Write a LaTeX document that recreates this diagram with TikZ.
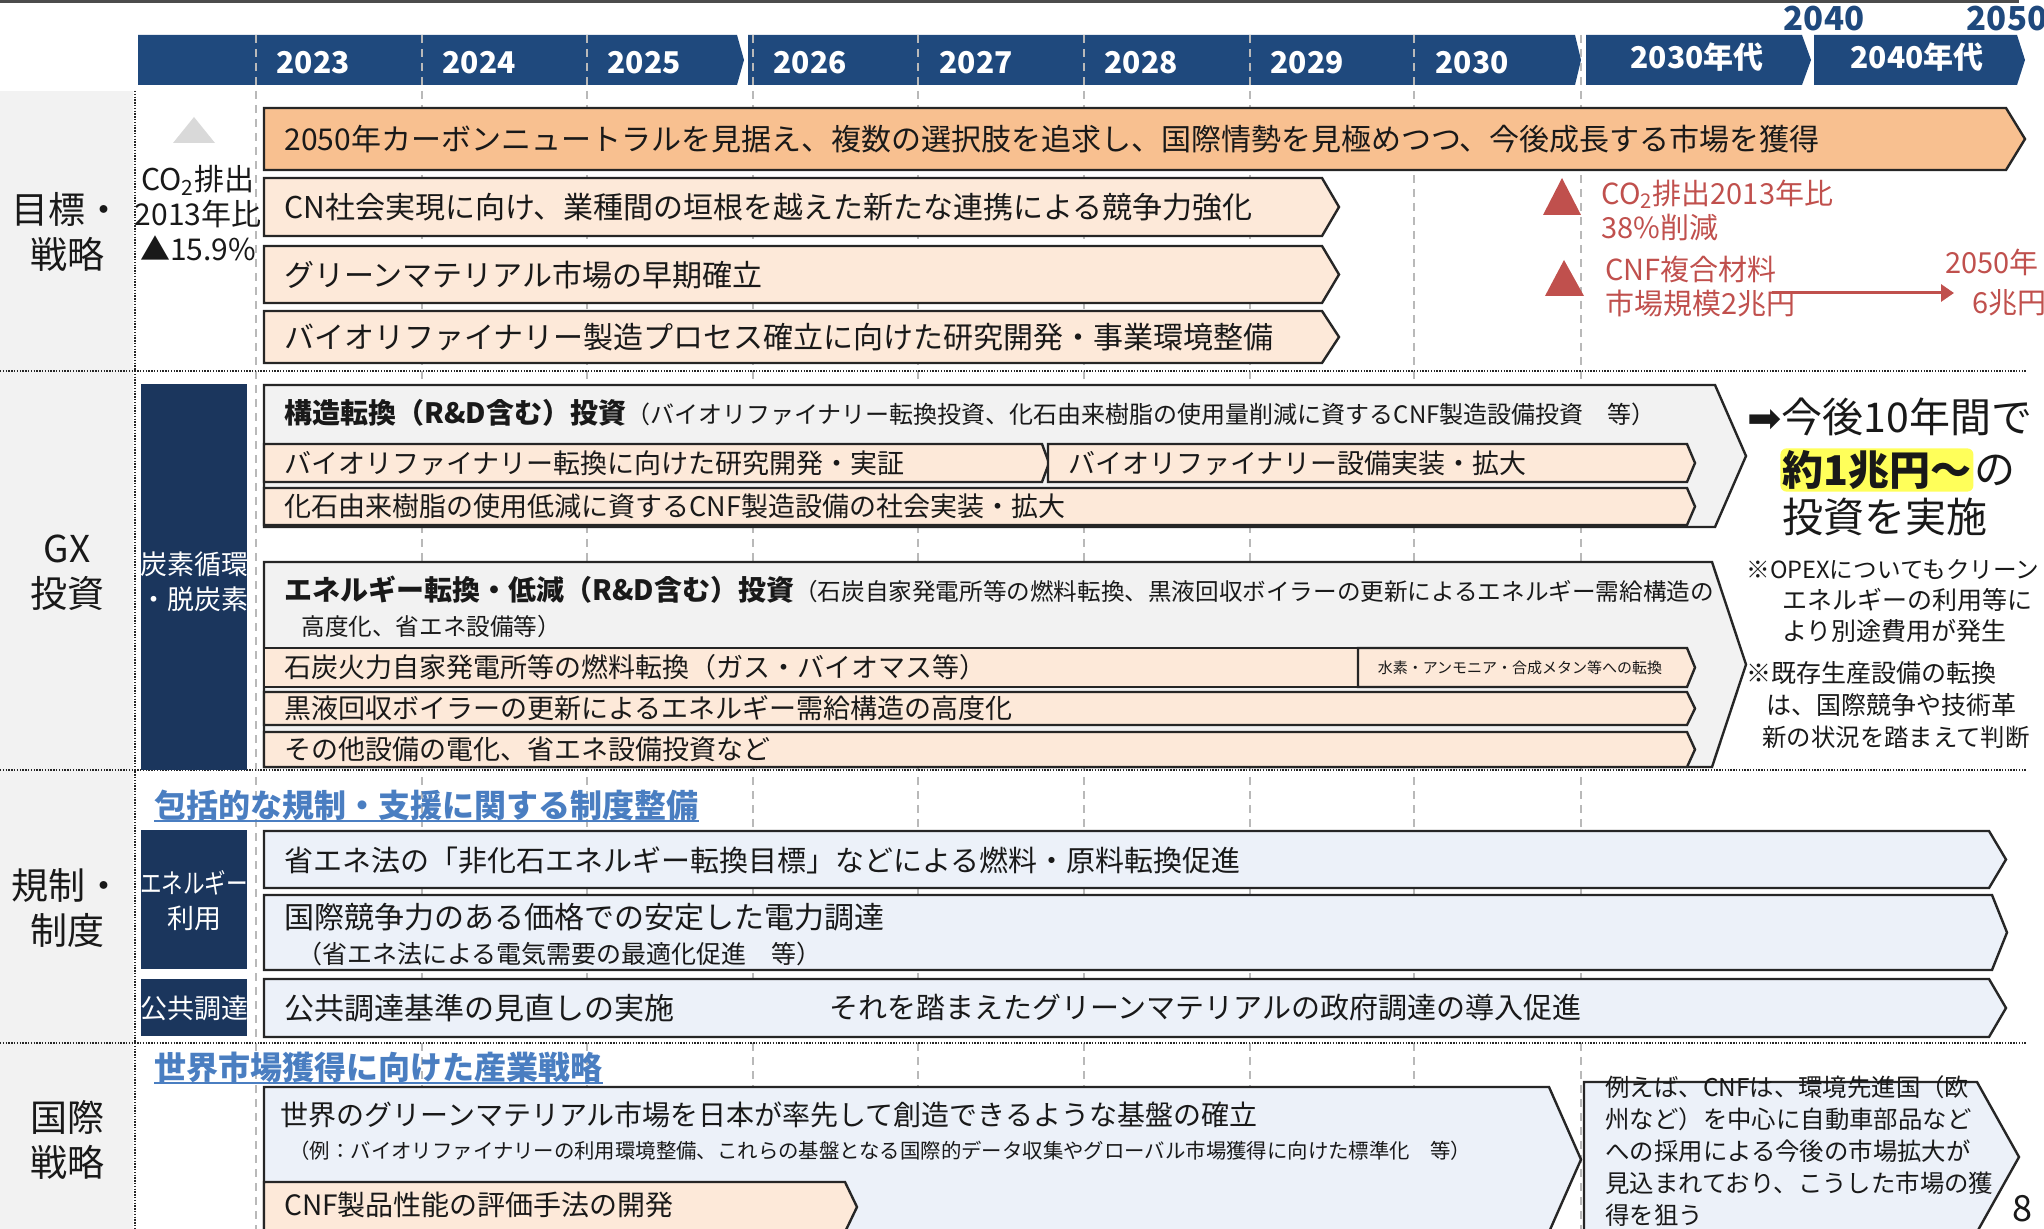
\documentclass[tikz,border=0pt]{standalone}
\usepackage{fontspec}
\setmainfont{Noto Sans CJK JP}
\newfontfamily\symfont{DejaVu Sans}
\usepackage{graphicx}
\usetikzlibrary{arrows.meta,positioning}

\definecolor{hdrblue}{RGB}{31,73,125}
\definecolor{navybox}{RGB}{27,54,93}
\definecolor{orangefill}{RGB}{248,192,144}
\definecolor{peach}{RGB}{253,233,217}
\definecolor{panelgray}{RGB}{242,242,242}
\definecolor{paleblue}{RGB}{236,241,249}
\definecolor{markred}{RGB}{192,80,77}
\definecolor{headblue}{RGB}{74,126,193}
\definecolor{gridgray}{RGB}{185,185,185}
\definecolor{glowyellow}{RGB}{255,255,90}

\newcommand\fsz[1]{\fontsize{#1}{#1}\selectfont}
% pentagon bar: [style]{x1}{y1}{x2}{y2}{tip x}
\newcommand\chevron[6][]{%
  \draw[#1] (#2,#3) -- (#4,#3) -- (#6,{(#3+#5)/2}) -- (#4,#5) -- (#2,#5) -- cycle;}

\tikzset{
  barhead/.style={fill=hdrblue, draw=none},
  boxline/.style={draw=black!85, line width=1.2pt, line join=miter},
  goalmain/.style={boxline, fill=orangefill},
  peachbox/.style={boxline, fill=peach},
  investbox/.style={boxline, fill=panelgray},
  regbox/.style={boxline, fill=paleblue},
  gridline/.style={gridgray, dash pattern=on 4pt off 3pt, line width=0.6pt},
  sepline/.style={black!85, line width=1.4pt, dash pattern=on 0.7pt off 0.7pt},
  lbl/.style={inner sep=0pt, anchor=west, text=black!90},
  yearlbl/.style={inner sep=0pt, text=white, font=\bfseries\fsz{15}},
  sectlbl/.style={inner sep=0pt, align=center, text=black!90,
    font=\fontsize{18.5}{22.5}\selectfont},
  tagtxt/.style={inner sep=0pt, align=center, text=white,
    font=\fontsize{13.5}{17.5}\selectfont},
  redtxt/.style={inner sep=0pt, anchor=west, align=left, text=markred,
    font=\fontsize{14.5}{17}\selectfont},
  headtxt/.style={inner sep=0pt, anchor=west, text=headblue, font=\bfseries\fsz{16}},
}

\begin{document}
\begin{tikzpicture}[x=0.5pt,y=-0.5pt,>=Latex]
\useasboundingbox (0,0) rectangle (2044,1229);
\draw[black!70, line width=1.5pt] (0,1.5) -- (2019,1.5);

% time axis
\chevron[barhead]{138}{35}{737}{85}{744}
\chevron[barhead]{748}{35}{1575}{85}{1581}
\chevron[barhead]{1586}{35}{1802}{85}{1811}
\chevron[barhead]{1814}{35}{2017}{85}{2025}
\fill[panelgray] (0,91) rectangle (133,1229);
\foreach \x in {256,422,587,753,918,1084,1250,1414,1581}
  \draw[gridline] (\x,35) -- (\x,1229);
\foreach \yr/\x in {2023/313,2024/479,2025/644,2026/810,2027/976,2028/1141,2029/1307,2030/1472}
  \node[yearlbl] (y\yr) at (\x,63) {\yr};
\node[yearlbl] (y2030s) at (1697,57) {2030年代};
\node[yearlbl] (y2040s) at (1917,57) {2040年代};
\node[yearlbl, text=hdrblue, font=\bfseries\fsz{16.5}] (m2040) at (1824,19) {2040};
\node[yearlbl, text=hdrblue, font=\bfseries\fsz{16.5}] (m2050) at (2007,19) {2050};

% rows
\draw[sepline] (0,371) -- (2026,371);
\draw[sepline] (0,770) -- (2026,770);
\draw[sepline] (0,1043) -- (2026,1043);
\draw[sepline] (135,91) -- (135,1229);
\node[sectlbl] (goal) at (67,232) {目標・\\戦略};
\node[sectlbl] (gx) at (67,573) {GX\\投資};
\node[sectlbl] (reg) at (67,908) {規制・\\制度};
\node[sectlbl] (intl) at (67,1140) {国際\\戦略};

% goals
\fill[black!15] (194,117) -- (215,143) -- (173,143) -- cycle;
\node[inner sep=0pt, align=center, text=black!90, font=\fontsize{15}{17.5}\selectfont]
  (co2now) at (198,213) {CO\textsubscript{2}排出\\2013年比\\▲15.9\%};
\chevron[goalmain]{264}{108}{2006}{170}{2025}
\node[lbl, font=\fsz{15}] (goal1) at (284,139)
  {2050年カーボンニュートラルを見据え、複数の選択肢を追求し、国際情勢を見極めつつ、今後成長する市場を獲得};
\chevron[peachbox]{264}{178}{1322}{236}{1339}
\node[lbl, font=\fsz{15}] (goal2) at (284,207)
  {CN社会実現に向け、業種間の垣根を越えた新たな連携による競争力強化};
\chevron[peachbox]{264}{246}{1322}{303}{1339}
\node[lbl, font=\fsz{15}] (goal3) at (284,275) {グリーンマテリアル市場の早期確立};
\chevron[peachbox]{264}{311}{1322}{363}{1339}
\node[lbl, font=\fsz{15}] (goal4) at (284,337)
  {バイオリファイナリー製造プロセス確立に向けた研究開発・事業環境整備};
\fill[markred] (1562,178) -- (1581,215) -- (1543,215) -- cycle;
\fill[markred] (1564,260) -- (1584,296) -- (1545,296) -- cycle;
\node[redtxt] (co2tgt) at (1601,210) {CO\textsubscript{2}排出2013年比\\38\%削減};
\node[redtxt] (cnfnow) at (1605,287) {CNF複合材料\\市場規模2兆円};
\node[redtxt] (cnf50a) at (1945,262) {2050年};
\node[redtxt] (cnf50b) at (1972,303) {6兆円};
\coordinate (grow0) at (1772,293);
\coordinate (grow1) at (1954,293);
\draw[markred, line width=1.5pt, -{Triangle[length=6.5pt,width=8.5pt]}] (grow0) -- (grow1);

% GX investment
\fill[navybox] (141,384) rectangle (247,770);
\node[tagtxt] (gxtag) at (194,582) {炭素循環\\・脱炭素};
\chevron[investbox]{264}{385}{1715}{527}{1746}
\node[lbl] (inv1) at (284,413) {{\bfseries\fsz{14}構造転換（R\&D含む）投資}{\fsz{12}（バイオリファイナリー転換投資、化石由来樹脂の使用量削減に資するCNF製造設備投資　等）}};
\chevron[peachbox]{264}{444}{1042}{482}{1049}
\node[lbl, font=\fsz{13.5}] (inv1a) at (284,463) {バイオリファイナリー転換に向けた研究開発・実証};
\chevron[peachbox]{1048}{444}{1687}{482}{1695}
\node[lbl, font=\fsz{13.5}] (inv1b) at (1068,463) {バイオリファイナリー設備実装・拡大};
\chevron[peachbox]{264}{488}{1687}{525}{1695}
\node[lbl, font=\fsz{13.5}] (inv1c) at (284,506.5) {化石由来樹脂の使用低減に資するCNF製造設備の社会実装・拡大};

\chevron[investbox]{264}{562}{1712}{767}{1746}
\node[lbl] (inv2) at (284,590) {{\bfseries\fsz{14}エネルギー転換・低減（R\&D含む）投資}{\fsz{11.8}（石炭自家発電所等の燃料転換、黒液回収ボイラーの更新によるエネルギー需給構造の}};
\node[lbl, font=\fsz{11.8}] (inv2l) at (301,627) {高度化、省エネ設備等）};
\draw[peachbox] (264,648) rectangle (1358,687);
\node[lbl, font=\fsz{13.5}] (inv2a) at (284,667.5) {石炭火力自家発電所等の燃料転換（ガス・バイオマス等）};
\chevron[peachbox]{1358}{648}{1687}{687}{1695}
\node[inner sep=0pt, text=black!90, font=\fsz{7.5}] (inv2h) at (1520,667.5) {水素・アンモニア・合成メタン等への転換};
\chevron[peachbox]{264}{692}{1687}{725}{1695}
\node[lbl, font=\fsz{13.5}] (inv2b) at (284,708.5) {黒液回収ボイラーの更新によるエネルギー需給構造の高度化};
\chevron[peachbox]{264}{732}{1687}{767}{1695}
\node[lbl, font=\fsz{13.5}] (inv2c) at (284,749.5) {その他設備の電化、省エネ設備投資など};

\node[lbl, font=\fsz{20.5}] (plan1) at (1747,417) {{\symfont ➡}今後10年間で};
\node[lbl, font=\bfseries\fsz{20.5}, fill=glowyellow, inner sep=1pt, rounded corners=3pt]
  (plan2) at (1780,470) {約1兆円～};
\node[lbl, font=\fsz{20.5}, right=0pt of plan2] (plan2b) {の};
\node[lbl, font=\fsz{20.5}] (plan3) at (1782,517) {投資を実施};
\node[lbl, font=\fsz{11.8}] (note1) at (1746,570) {※OPEXについてもクリーン};
\node[lbl, font=\fsz{12.5}] (note2) at (1782,600) {エネルギーの利用等に};
\node[lbl, font=\fsz{12.5}] (note3) at (1782,631) {より別途費用が発生};
\node[lbl, font=\fsz{12.5}] (note4) at (1746,673) {※既存生産設備の転換};
\node[lbl, font=\fsz{12.5}] (note5) at (1766,705) {は、国際競争や技術革};
\node[lbl, font=\fsz{12.2}] (note6) at (1762,737) {新の状況を踏まえて判断};

% regulation
\node[headtxt] (regh) at (154,805) {包括的な規制・支援に関する制度整備};
\draw[headblue, line width=1.2pt] (regh.south west) -- (regh.south east);
\fill[navybox] (141,830) rectangle (247,969);
\node[tagtxt] (energytag) at (194,901) {\scalebox{0.8}[1]{エネルギー}\\利用};
\fill[navybox] (141,979) rectangle (247,1036);
\node[tagtxt] (proctag) at (194,1008) {公共調達};
\chevron[regbox]{264}{831}{1989}{888}{2006}
\node[lbl, font=\fsz{14.5}] (reg1) at (284,860) {省エネ法の「非化石エネルギー転換目標」などによる燃料・原料転換促進};
\chevron[regbox]{264}{895}{1992}{970}{2007}
\node[lbl, font=\fsz{15}] (reg2) at (284,917) {国際競争力のある価格での安定した電力調達};
\node[lbl, font=\fsz{12.5}] (reg2l) at (297,954) {（省エネ法による電気需要の最適化促進　等）};
\chevron[regbox]{264}{979}{1989}{1037}{2006}
\node[lbl, font=\fsz{15}] (reg3a) at (284,1008) {公共調達基準の見直しの実施};
\node[lbl, font=\fsz{14.5}] (reg3b) at (829,1008) {それを踏まえたグリーンマテリアルの政府調達の導入促進};

% international strategy
\node[headtxt] (intlh) at (154,1067) {世界市場獲得に向けた産業戦略};
\draw[headblue, line width=1.2pt] (intlh.south west) -- (intlh.south east);
\chevron[regbox]{264}{1087}{1549}{1232}{1581}
\node[lbl, font=\fsz{14}] (intl1) at (280,1115) {世界のグリーンマテリアル市場を日本が率先して創造できるような基盤の確立};
\node[lbl, font=\fsz{10.2}] (intl1l) at (289,1151) {（例：バイオリファイナリーの利用環境整備、これらの基盤となる国際的データ収集やグローバル市場獲得に向けた標準化　等）};
\chevron[peachbox]{264}{1182}{845}{1232}{857}
\node[lbl, font=\fsz{14}] (intl2) at (284,1205) {CNF製品性能の評価手法の開発};
\chevron[regbox]{1584}{1082}{1977}{1232}{2019}
\foreach \t [count=\i] in {例えば、CNFは、環境先進国（欧, 州など）を中心に自動車部品など,
    への採用による今後の市場拡大が, 見込まれており、こうした市場の獲, 得を狙う}
  \node[lbl, font=\fsz{12.2}] (ex\i) at (1605,{1087+32*(\i-1)}) {\t};
\node[inner sep=0pt, text=black!90, font=\fsz{18}] (pageno) at (2022,1209) {8};
\end{tikzpicture}
\end{document}
